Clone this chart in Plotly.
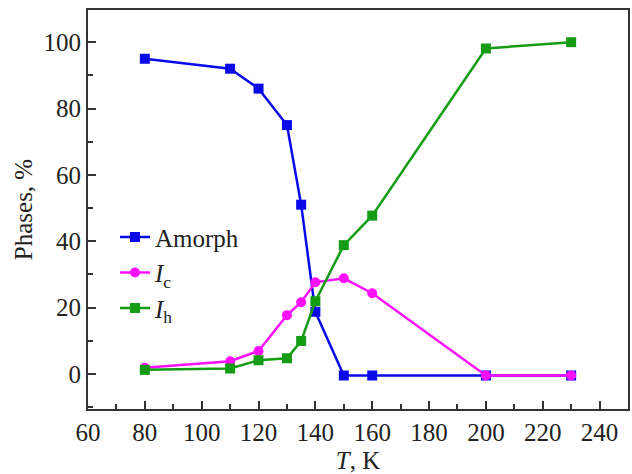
import plotly.graph_objects as go

T = [80, 110, 120, 130, 135, 140, 150, 160, 200, 230]
amorph = [95, 92, 86, 75, 51, 18.7, -0.5, -0.5, -0.5, -0.5]
ic = [1.8, 3.8, 6.9, 17.7, 21.6, 27.6, 28.8, 24.3, -0.5, -0.5]
ih = [1.2, 1.6, 4.1, 4.7, 9.9, 21.9, 38.8, 47.7, 98.1, 100]

names = ["Amorph", "<i>I</i><sub>c</sub>", "<i>I</i><sub>h</sub>"]
colors = ["#0a0ae8", "#ff10ff", "#149c14"]
symbols = ["square", "circle", "square"]

fig = go.Figure()
for y, n, c, s in zip([amorph, ic, ih], names, colors, symbols):
    fig.add_trace(go.Scatter(
        x=T, y=y, name=n, mode="lines+markers",
        line=dict(color=c, width=2.5),
        marker=dict(symbol=s, size=10, color=c),
    ))

font = "Liberation Serif, Times New Roman, serif"
axis_common = dict(
    showline=True, linecolor="#333333", linewidth=2, mirror=True,
    ticks="inside", ticklen=8, tickwidth=1.5, tickcolor="#333333",
    showgrid=False, zeroline=False,
    tickfont=dict(family=font, size=25, color="#222222"),
)
fig.update_xaxes(
    range=[60, 250], tick0=60, dtick=20, automargin=False,
    minor=dict(ticks="inside", ticklen=5, tickwidth=1.5, tickcolor="#333333", dtick=10, tick0=60),
    title=dict(text="<i>T</i>, K", font=dict(family=font, size=25, color="#222222")),
    **axis_common,
)
fig.update_yaxes(
    range=[-10.6, 109.7], tick0=0, dtick=20, automargin=True,
    minor=dict(ticks="inside", ticklen=5, tickwidth=1.5, tickcolor="#333333", dtick=10, tick0=0),
    title=dict(text="Phases, %", font=dict(family=font, size=25, color="#222222"), standoff=4),
    **axis_common,
)
fig.update_layout(
    width=632, height=474,
    margin=dict(l=88, r=2, t=10, b=65),
    plot_bgcolor="white", paper_bgcolor="white",
    font=dict(family=font),
    showlegend=True,
    legend=dict(
        x=0.05, y=0.488, xanchor="left", yanchor="top",
        bgcolor="rgba(0,0,0,0)",
        font=dict(family=font, size=25, color="#222222"),
        tracegroupgap=0, itemwidth=30,
    ),
)
fig.write_html(
    "out.html",
    config={"displayModeBar": False},
    post_script="document.body.style.margin='0';document.body.style.overflow='hidden';",
)
